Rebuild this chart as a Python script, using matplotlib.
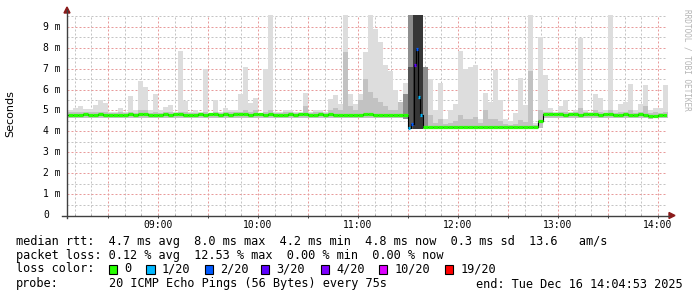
import numpy as np
import matplotlib.pyplot as plt
from matplotlib.patches import Polygon, Rectangle
from matplotlib.lines import Line2D
import matplotlib.transforms as mtransforms

# ---- data: rtt in ms, one value per 3 minute bin, first bin starts 08:06 ----
bin_start = 8.1    # hours
bin_len = 0.05     # hours (3 min)

median_rtt = [
    4.80, 4.78, 4.80, 4.81, 4.79, 4.80, 4.82, 4.80, 4.78, 4.80,
    4.80, 4.79, 4.81, 4.80, 4.82, 4.81, 4.80, 4.79, 4.80, 4.81,
    4.80, 4.82, 4.81, 4.80, 4.79, 4.80, 4.81, 4.80, 4.82, 4.81,
    4.80, 4.81, 4.80, 4.82, 4.83, 4.81, 4.80, 4.82, 4.81, 4.80,
    4.81, 4.80, 4.79, 4.80, 4.81, 4.80, 4.82, 4.81, 4.80, 4.80,
    4.81, 4.80, 4.82, 4.80, 4.79, 4.80, 4.78, 4.79, 4.80, 4.81,
    4.82, 4.80, 4.79, 4.78, 4.79, 4.80, 4.78, 4.79, np.nan, np.nan,
    np.nan, 4.22, 4.20, 4.21, 4.22, 4.20, 4.19, 4.21, 4.22, 4.20,
    4.21, 4.20, 4.22, 4.20, 4.19, 4.20, 4.21, 4.19, 4.20, 4.21,
    4.20, 4.21, 4.19, 4.20, 4.50, 4.82, 4.83, 4.82, 4.81, 4.80,
    4.81, 4.82, 4.80, 4.81, 4.83, 4.82, 4.80, 4.81, 4.82, 4.80,
    4.79, 4.81, 4.80, 4.80, 4.81, 4.78, 4.72, 4.74, 4.80, 4.79,
]

smoke_min = [
    4.65, 4.62, 4.66, 4.65, 4.64, 4.66, 4.65, 4.63, 4.65, 4.66,
    4.65, 4.64, 4.66, 4.65, 4.65, 4.63, 4.65, 4.66, 4.64, 4.65,
    4.65, 4.66, 4.64, 4.65, 4.65, 4.63, 4.65, 4.66, 4.65, 4.64,
    4.65, 4.66, 4.65, 4.65, 4.64, 4.65, 4.66, 4.65, 4.64, 4.65,
    4.65, 4.64, 4.65, 4.66, 4.65, 4.65, 4.64, 4.65, 4.66, 4.65,
    4.65, 4.64, 4.66, 4.65, 4.65, 4.64, 4.65, 4.66, 4.65, 4.65,
    4.64, 4.65, 4.66, 4.65, 4.64, 4.65, 4.65, 4.60, 4.10, 4.10,
    4.10, 4.12, 4.12, 4.12, 4.12, 4.12, 4.11, 4.12, 4.12, 4.12,
    4.12, 4.12, 4.12, 4.12, 4.11, 4.12, 4.12, 4.11, 4.12, 4.12,
    4.12, 4.12, 4.11, 4.12, 4.15, 4.65, 4.66, 4.65, 4.64, 4.65,
    4.65, 4.66, 4.65, 4.64, 4.65, 4.65, 4.64, 4.65, 4.66, 4.65,
    4.64, 4.65, 4.65, 4.64, 4.65, 4.62, 4.60, 4.62, 4.65, 4.64,
]

smoke_mid = [
    4.92, 4.92, 4.95, 4.92, 4.92, 4.95, 4.95, 4.92, 4.90, 4.90,
    4.92, 4.90, 4.95, 4.90, 5.00, 5.00, 4.90, 4.95, 4.90, 4.92,
    4.92, 4.90, 4.95, 4.92, 4.90, 4.90, 4.90, 4.95, 4.90, 4.95,
    4.90, 4.92, 4.92, 4.92, 4.95, 5.00, 4.95, 5.00, 4.90, 4.95,
    5.00, 4.90, 4.90, 4.92, 4.92, 4.90, 4.90, 5.20, 4.90, 4.92,
    4.92, 4.90, 5.00, 5.10, 5.00, 7.80, 5.20, 5.00, 5.50, 6.50,
    5.90, 5.60, 5.40, 5.20, 5.00, 5.00, 5.40, 5.80, 9.60, 9.60,
    9.60, 6.60, 4.80, 4.40, 4.60, 4.35, 4.40, 4.50, 4.80, 4.60,
    4.60, 4.70, 4.40, 5.00, 4.60, 4.60, 4.50, 4.35, 4.30, 4.35,
    4.55, 4.45, 6.90, 4.30, 5.00, 4.95, 4.95, 4.90, 4.92, 4.95,
    4.90, 4.92, 5.10, 4.92, 4.90, 5.00, 4.95, 4.90, 5.00, 4.90,
    4.92, 4.95, 5.00, 4.90, 4.92, 5.20, 4.90, 4.92, 4.90, 4.95,
]

smoke_max = [
    5.00, 5.10, 5.20, 5.07, 5.07, 5.26, 5.50, 5.37, 4.95, 4.95,
    5.10, 4.95, 5.70, 5.00, 6.40, 6.12, 5.00, 5.80, 5.00, 5.15,
    5.26, 4.95, 7.86, 5.47, 4.95, 5.00, 4.95, 7.00, 4.90, 5.50,
    4.95, 5.10, 5.00, 5.00, 5.80, 7.10, 5.35, 5.60, 4.90, 7.00,
    9.60, 4.95, 4.95, 5.00, 5.00, 4.95, 4.95, 5.84, 4.95, 5.00,
    5.00, 4.95, 5.55, 5.75, 5.30, 9.60, 5.80, 5.30, 5.80, 7.80,
    9.60, 8.90, 8.30, 7.20, 6.90, 6.00, 5.30, 6.30, 9.60, 9.60,
    9.60, 7.10, 6.50, 5.00, 6.30, 4.60, 5.00, 5.30, 7.86, 7.00,
    7.10, 7.20, 4.60, 5.84, 5.40, 6.93, 5.50, 4.60, 4.50, 4.90,
    6.55, 5.26, 9.60, 4.40, 8.50, 6.70, 5.10, 4.95, 5.20, 5.50,
    4.95, 5.00, 8.47, 5.00, 4.95, 5.80, 5.60, 5.00, 9.60, 5.00,
    5.30, 5.40, 6.25, 5.00, 5.30, 6.20, 5.00, 5.10, 5.10, 6.20,
]

# bins where most pings were spread out (deep and dark smoke)
deep_bins = [67, 68, 69, 70, 71]
deep_top = [5.80, 9.60, 9.60, 9.60, 7.10]
dark_bins = [68, 69, 70]
dark_top = [7.10, 9.60, 9.60]

# median samples with packet loss (75 s steps)
loss_time = [11.503, 11.530, 11.560, 11.577, 11.597, 11.617]
loss_rtt = [4.15, 4.35, 7.20, 7.96, 5.65, 4.78]
loss_pings = [1, 2, 3, 2, 1, 1]

loss_levels = ['0', '1/20', '2/20', '3/20', '4/20', '10/20', '19/20']
loss_colors = ['#26ff00', '#00b8ff', '#0059ff', '#5e00ff', '#7e00ff', '#dd00ff', '#ff0000']
loss_color_of = {0: '#26ff00', 1: '#00b8ff', 2: '#0059ff', 3: '#5e00ff', 4: '#7e00ff'}

x_tick_hours = [9, 10, 11, 12, 13, 14]
x_tick_labels = ['09:00', '10:00', '11:00', '12:00', '13:00', '14:00']
y_ticks = [0, 1, 2, 3, 4, 5, 6, 7, 8, 9]
y_tick_labels = ['0', '1 m', '2 m', '3 m', '4 m', '5 m', '6 m', '7 m', '8 m', '9 m']

W, H = 697, 297
MONO = ['DejaVu Sans Mono']

fig = plt.figure(figsize=(W / 100, H / 100), dpi=100)
fig.patch.set_facecolor('white')
ax = fig.add_axes([67 / W, 82 / H, 600 / W, 200 / H])
ax.set_xlim(8.09, 14.09)
ax.set_ylim(0, 200 / 20.9)

n = len(median_rtt)
edges = bin_start + bin_len * np.arange(n + 1)
lo = np.append(smoke_min, smoke_min[-1])

# smoke
ax.fill_between(edges, lo, np.append(smoke_max, smoke_max[-1]), step='post',
                color='#dddddd', lw=0, zorder=2)
ax.fill_between(edges, lo, np.append(smoke_mid, smoke_mid[-1]), step='post',
                color='#c2c2c2', lw=0, zorder=3)
for b, top in zip(deep_bins, deep_top):
    ax.fill_between([edges[b], edges[b + 1]], smoke_min[b], top,
                    color='#8e8e8e', lw=0, zorder=4)
for b, top in zip(dark_bins, dark_top):
    shade = '#363636' if top > 9 else '#555555'
    ax.fill_between([edges[b], edges[b + 1]], smoke_min[b], top,
                    color=shade, lw=0, zorder=4)

# median: black connector line, then coloured segments
med = np.array(median_rtt)
ok = ~np.isnan(med)
t_all = np.concatenate([edges[:-1][ok], loss_time])
v_all = np.concatenate([med[ok], loss_rtt])
order = np.argsort(t_all)
t_all = np.append(t_all[order], edges[-1])
v_all = np.append(v_all[order], v_all[order][-1])
ax.step(t_all, v_all, where='post', color='black', lw=0.8, zorder=5)
ax.hlines(med[ok], edges[:-1][ok], edges[1:][ok], color='#26ff00', lw=2.3, zorder=6)
step75 = 75 / 3600
ax.hlines(loss_rtt, loss_time, np.array(loss_time) + step75,
          colors=[loss_color_of[p] for p in loss_pings], lw=2.3, zorder=7)

# grid
major_x = np.arange(8.5, 14.01, 0.5)
ax.set_xticks(major_x)
ax.set_xticklabels([x_tick_labels[x_tick_hours.index(int(h))] if h % 1 == 0 else ''
                    for h in major_x], family=MONO, fontsize=7)
minor_x = [m / 6 for m in range(49, 85) if m % 3 != 0]
ax.set_xticks(minor_x, minor=True)
ax.set_yticks(y_ticks)
ax.set_yticklabels([])
ax.set_yticks(np.arange(0.5, 9.6, 1.0), minor=True)
ax.grid(which='major', color='#e89a9a', ls=(0, (2, 2)), lw=0.72, zorder=0)
ax.grid(which='minor', color='#c4c4c4', ls=(0, (2, 2)), lw=0.72, zorder=0)
ax.set_axisbelow(True)
ax.tick_params(axis='x', which='major', length=2, width=0.7, color='#404040', pad=1.5)
ax.tick_params(axis='x', which='minor', length=1, width=0.7, color='#404040')
ax.tick_params(axis='y', which='both', length=0)
for s in ax.spines.values():
    s.set_visible(False)

trans = mtransforms.blended_transform_factory(fig.transFigure, ax.transData)
for v, lab in zip(y_ticks, y_tick_labels):
    fig.text(43 / W, v, lab, transform=trans, family=MONO, fontsize=7,
             ha='left', va='center')


def px(x, y):
    return (x / W, 1 - y / H)


# axes lines and arrows
axis_col = '#404040'
fig.add_artist(Line2D([67 / W, 67 / W], [1 - 218 / H, 1 - 10 / H], color=axis_col, lw=1.0))
fig.add_artist(Line2D([62 / W, 669 / W], [1 - 215.5 / H, 1 - 215.5 / H], color=axis_col, lw=1.0))
fig.add_artist(Polygon([px(64, 13), px(70, 13), px(67, 7)], closed=True,
                       color='#8b1a1a', transform=fig.transFigure))
fig.add_artist(Polygon([px(669, 212.5), px(669, 218.5), px(675, 215.5)], closed=True,
                       color='#8b1a1a', transform=fig.transFigure))

# y axis title and watermark
fig.text(10 / W, 1 - 114 / H, 'Seconds', rotation=90, fontsize=8,
         ha='center', va='center', family=['DejaVu Sans'])
fig.text(687 / W, 1 - 60 / H, 'RRDTOOL / TOBI OETIKER', rotation=270, fontsize=5.6,
         color='#b4b4b4', ha='center', va='center', family=MONO)

# legend block
LF = 8.55


def ltext(x, y, s, ha='left'):
    fig.text(x / W, 1 - y / H, s, fontsize=LF, family=MONO, ha=ha, va='center')


ltext(16, 241, 'median rtt:  4.7 ms avg  8.0 ms max  4.2 ms min  4.8 ms now  0.3 ms sd  13.6   am/s')
ltext(16, 255, 'packet loss: 0.12 % avg  12.53 % max  0.00 % min  0.00 % now')
ltext(16, 269, 'loss color:')
sq_x = [108.6, 146, 204.6, 260.5, 320.8, 379, 444.6]
for x, lab, col in zip(sq_x, loss_levels, loss_colors):
    fig.add_artist(Rectangle((x / W, 1 - 273.5 / H), 8.5 / W, 9 / H, facecolor=col,
                             edgecolor='black', lw=0.8, transform=fig.transFigure))
    ltext(x + 15.5, 269, lab)
ltext(16, 284, 'probe:')
ltext(108.6, 284, '20 ICMP Echo Pings (56 Bytes) every 75s')
ltext(683, 284, 'end: Tue Dec 16 14:04:53 2025', ha='right')

fig.savefig('out.png', dpi=100, facecolor='white')
